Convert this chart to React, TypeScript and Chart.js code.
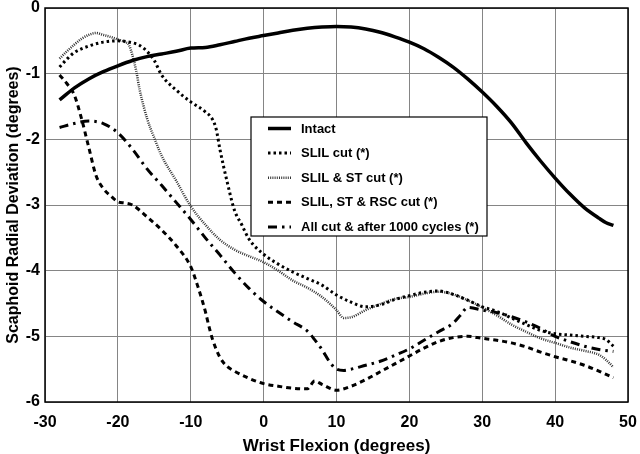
import React, { useEffect, useRef } from 'react';
import { Chart, registerables } from 'chart.js';

Chart.register(...registerables);

// ---------- data ----------
const seriesNames = [
  'Intact',
  'SLIL cut (*)',
  'SLIL & ST cut (*)',
  'SLIL, ST & RSC cut (*)',
  'All cut & after 1000 cycles (*)',
];

const intactX = [-28, -26, -24, -22, -20, -18, -16, -14, -12, -10, -8, -6, -4, -2, 0, 2, 4, 6, 8, 10, 12, 14, 16, 18, 20, 22, 24, 26, 28, 30, 32, 34, 36, 38, 40, 42, 44, 46, 47, 48];
const intactY = [-1.40, -1.22, -1.08, -0.97, -0.88, -0.80, -0.74, -0.70, -0.66, -0.61, -0.60, -0.56, -0.51, -0.46, -0.42, -0.38, -0.34, -0.31, -0.29, -0.28, -0.29, -0.32, -0.37, -0.44, -0.52, -0.62, -0.75, -0.90, -1.08, -1.28, -1.50, -1.75, -2.05, -2.33, -2.59, -2.83, -3.04, -3.20, -3.27, -3.31];

const slilX = [-28, -27, -26, -24, -22, -20, -18, -17, -16, -15, -14, -12, -10, -8, -7, -6.5, -6, -5, -4, -3, -2, 0, 2, 4, 6, 8, 10, 12, 14, 16, 18, 20, 22, 24, 26, 28, 30, 32, 34, 36, 38, 40, 42, 44, 46, 47, 48];
const slilY = [-0.90, -0.78, -0.68, -0.58, -0.52, -0.50, -0.53, -0.57, -0.66, -0.80, -1.02, -1.25, -1.43, -1.58, -1.70, -1.85, -2.15, -2.65, -3.08, -3.30, -3.52, -3.75, -3.90, -4.02, -4.12, -4.22, -4.37, -4.48, -4.55, -4.52, -4.44, -4.38, -4.33, -4.31, -4.36, -4.45, -4.55, -4.62, -4.72, -4.82, -4.91, -4.96, -4.98, -5.00, -5.02, -5.05, -5.15];

const slilStX = [-28, -27, -26, -25, -24, -23, -22, -21, -20, -19, -18.5, -18, -17.5, -17, -16, -15, -14, -12, -10, -8, -6, -4, -2, 0, 2, 4, 6, 8, 10, 11, 12, 14, 16, 18, 20, 22, 24, 26, 28, 30, 32, 34, 36, 38, 40, 42, 44, 46, 47, 48];
const slilStY = [-0.77, -0.66, -0.56, -0.47, -0.41, -0.38, -0.41, -0.44, -0.48, -0.52, -0.56, -0.72, -0.95, -1.25, -1.68, -1.98, -2.25, -2.63, -3.02, -3.30, -3.53, -3.68, -3.78, -3.87, -4.00, -4.15, -4.26, -4.40, -4.60, -4.72, -4.71, -4.60, -4.51, -4.43, -4.40, -4.35, -4.32, -4.36, -4.45, -4.56, -4.68, -4.82, -4.93, -5.03, -5.10, -5.17, -5.22, -5.28, -5.36, -5.47];

const rscX = [-28, -27, -26, -25, -24, -23, -22, -21, -20, -19, -18, -16, -14, -12, -10, -9, -8, -7.5, -7, -6, -5, -4, -2, 0, 2, 4, 6, 7, 8, 10, 12, 14, 16, 18, 20, 22, 24, 26, 28, 30, 32, 34, 36, 38, 40, 42, 44, 46, 47, 48];
const rscY = [-1.02, -1.15, -1.32, -1.68, -2.12, -2.55, -2.75, -2.86, -2.95, -2.97, -3.00, -3.18, -3.38, -3.62, -3.94, -4.25, -4.62, -4.85, -5.05, -5.32, -5.46, -5.53, -5.64, -5.72, -5.76, -5.79, -5.80, -5.68, -5.73, -5.82, -5.76, -5.66, -5.54, -5.42, -5.30, -5.18, -5.08, -5.02, -5.00, -5.03, -5.06, -5.10, -5.16, -5.24, -5.31, -5.37, -5.44, -5.53, -5.58, -5.63];

const allCutX = [-28, -26, -24, -22, -20, -18, -16, -14, -12, -10, -8, -6, -4, -2, 0, 2, 4, 6, 7, 8, 9, 10, 11, 12, 14, 16, 18, 20, 22, 24, 26, 27, 28, 30, 32, 34, 36, 38, 40, 42, 44, 46, 48];
const allCutY = [-1.82, -1.76, -1.72, -1.76, -1.90, -2.15, -2.45, -2.70, -2.96, -3.22, -3.50, -3.76, -4.03, -4.27, -4.47, -4.63, -4.78, -4.92, -5.05, -5.20, -5.38, -5.50, -5.52, -5.50, -5.44, -5.38, -5.29, -5.19, -5.06, -4.93, -4.80, -4.68, -4.56, -4.60, -4.64, -4.70, -4.78, -4.88, -5.00, -5.08, -5.15, -5.20, -5.23];

const xTickValues = [-30, -20, -10, 0, 10, 20, 30, 40, 50];
const yTickValues = [0, -1, -2, -3, -4, -5, -6];

const xTitle = 'Wrist Flexion (degrees)';
const yTitle = 'Scaphoid Radial Deviation (degrees)';

// ---------- styles ----------
const FONT = "'Liberation Sans', Arial, sans-serif";
const lineStyles = [
  { borderWidth: 3.5, borderDash: [] as number[], color: '#000' },
  { borderWidth: 3, borderDash: [2.5, 3], color: '#000' },
  { borderWidth: 2.5, borderDash: [1, 1.2], color: '#333' },
  { borderWidth: 3, borderDash: [5, 4], color: '#000' },
  { borderWidth: 3, borderDash: [9, 5, 2.5, 5], color: '#000' },
];

const toPoints = (xs: number[], ys: number[]) => xs.map((x, i) => ({ x, y: ys[i] }));

const boxLegendPlugin = {
  id: 'boxLegend',
  afterDatasetsDraw(chart: any) {
    const { ctx, chartArea } = chart;
    const left = chartArea.left + 206;
    const top = chartArea.top + 109;
    const w = 236;
    const h = 119;
    ctx.save();
    ctx.fillStyle = '#fff';
    ctx.fillRect(left, top, w, h);
    ctx.strokeStyle = '#000';
    ctx.lineWidth = 1.2;
    ctx.strokeRect(left, top, w, h);
    ctx.font = `bold 13px ${FONT}`;
    ctx.textBaseline = 'middle';
    ctx.textAlign = 'left';
    chart.data.datasets.forEach((ds: any, i: number) => {
      const y = top + 11.5 + i * 24.6;
      ctx.beginPath();
      ctx.setLineDash(ds.borderDash || []);
      ctx.lineWidth = ds.borderWidth;
      ctx.strokeStyle = ds.borderColor;
      ctx.lineCap = 'butt';
      ctx.moveTo(left + 17, y);
      ctx.lineTo(left + 40, y);
      ctx.stroke();
      ctx.setLineDash([]);
      ctx.fillStyle = '#000';
      ctx.fillText(ds.label, left + 50, y + 0.5);
    });
    ctx.restore();
  },
  afterDraw(chart: any) {
    const { ctx, chartArea } = chart;
    ctx.save();
    ctx.strokeStyle = '#000';
    ctx.lineWidth = 1.5;
    ctx.strokeRect(chartArea.left, chartArea.top, chartArea.right - chartArea.left, chartArea.bottom - chartArea.top);
    ctx.restore();
  },
};

export default function App() {
  const canvasRef = useRef<HTMLCanvasElement | null>(null);

  useEffect(() => {
    if (!canvasRef.current) return;
    const series = [
      toPoints(intactX, intactY),
      toPoints(slilX, slilY),
      toPoints(slilStX, slilStY),
      toPoints(rscX, rscY),
      toPoints(allCutX, allCutY),
    ];
    const chart = new Chart(canvasRef.current, {
      type: 'line',
      data: {
        datasets: series.map((pts, i) => ({
          label: seriesNames[i],
          data: pts,
          borderColor: lineStyles[i].color,
          backgroundColor: lineStyles[i].color,
          borderWidth: lineStyles[i].borderWidth,
          borderDash: lineStyles[i].borderDash,
          borderCapStyle: 'butt',
          pointRadius: 0,
          cubicInterpolationMode: 'monotone',
          fill: false,
        })),
      },
      options: {
        animation: false,
        responsive: true,
        maintainAspectRatio: false,
        layout: { padding: 0 },
        plugins: { legend: { display: false }, tooltip: { enabled: false } },
        scales: {
          x: {
            type: 'linear',
            min: -30,
            max: 50,
            afterBuildTicks: (scale: any) => {
              scale.ticks = xTickValues.map((v) => ({ value: v }));
            },
            afterFit: (scale: any) => {
              scale.height = 52;
              scale.paddingLeft = 0;
              scale.paddingRight = 12;
            },
            grid: { color: '#858585', lineWidth: 1, drawTicks: false },
            border: { display: false },
            ticks: {
              padding: 11,
              color: '#000',
              font: { family: FONT, size: 16, weight: 'bold' },
              maxRotation: 0,
            },
            title: {
              display: true,
              text: xTitle,
              color: '#000',
              font: { family: FONT, size: 17, weight: 'bold', lineHeight: 0.9 },
              padding: { top: 0, bottom: 0 },
            },
          },
          y: {
            type: 'linear',
            min: -6,
            max: 0,
            afterBuildTicks: (scale: any) => {
              scale.ticks = yTickValues.map((v) => ({ value: v }));
            },
            afterFit: (scale: any) => {
              scale.width = 45;
              scale.paddingTop = 8;
              scale.paddingBottom = 0;
            },
            grid: { color: '#858585', lineWidth: 1, drawTicks: false },
            border: { display: false },
            ticks: {
              padding: 5,
              color: '#000',
              font: { family: FONT, size: 16, weight: 'bold' },
            },
            title: {
              display: true,
              text: yTitle,
              color: '#000',
              font: { family: FONT, size: 16, weight: 'bold' },
              padding: { top: 4, bottom: 0 },
            },
          },
        },
      } as any,
      plugins: [boxLegendPlugin],
    });
    return () => chart.destroy();
  }, []);

  return (
    <div style={{ position: 'fixed', left: 0, top: 0, width: 640, height: 454, background: '#fff' }}>
      <canvas ref={canvasRef} />
    </div>
  );
}
